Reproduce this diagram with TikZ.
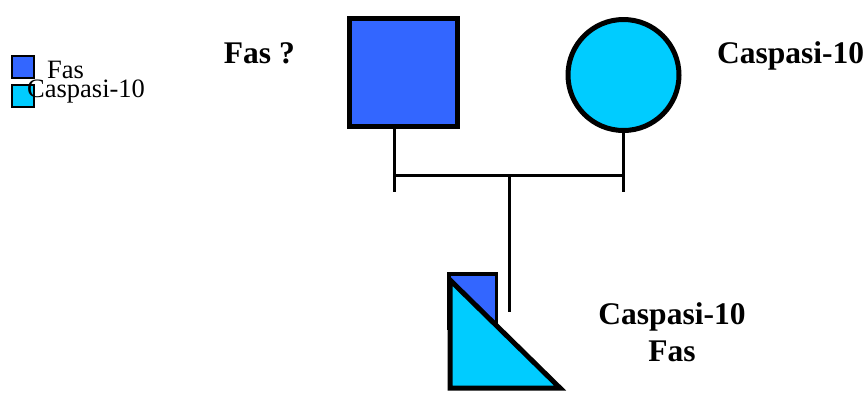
\documentclass[tikz,border=0pt]{standalone}
\usepackage{fontspec}
\setmainfont{Liberation Serif}
\usepackage{xcolor}
\definecolor{fasblue}{RGB}{51,102,255}
\definecolor{caspcyan}{RGB}{0,204,255}

\begin{document}
\begin{tikzpicture}[x=1pt,y=-1pt,
    member/.style={draw,line width=5pt,inner sep=0pt},
    legbox/.style={draw,line width=2pt,inner sep=0pt,minimum size=22pt},
    bigtxt/.style={inner sep=0pt,font=\fontsize{31.5}{37}\selectfont\bfseries},
    legtxt/.style={inner sep=0pt,font=\fontsize{26.5}{30}\selectfont}]
  \useasboundingbox (0,0) rectangle (867,392);
  % legend
  \node[legbox,fill=fasblue] (legfas) at (23,66.5) {};
  \node[legbox,fill=caspcyan] (legcasp) at (23,96) {};
  \node[legtxt,anchor=base west] (legfastxt) at (47,78) {Fas};
  \node[legtxt,anchor=base west] (legcasptxt) at (27,97) {Caspasi-10};
  % parents
  \node[member,fill=fasblue,minimum size=108pt] (father) at (403.5,72) {};
  \node[member,circle,fill=caspcyan,minimum size=111pt] (mother) at (623.5,75) {};
  \node[bigtxt,anchor=base east] (fathertxt) at (295,63) {Fas ?};
  \node[bigtxt,anchor=base west] (mothertxt) at (717,63) {Caspasi-10};
  % mating line and descent
  \coordinate (fleg) at (394,192);
  \coordinate (mleg) at (623,192);
  \coordinate (mate) at (509,175);
  \coordinate (childtop) at (509,312);
  \draw[line width=3pt] (fleg |- father.south) -- (fleg);
  \draw[line width=3pt] (mleg |- mother.south) -- (mleg);
  \draw[line width=3pt] (fleg |- mate) -- (mleg |- mate);
  \draw[line width=3pt] (mate) -- (childtop);
  % child
  \draw[line width=3.5pt,fill=fasblue] (449,274) rectangle (496.5,328);
  \draw[line width=5pt,fill=caspcyan,line join=miter] (450,280) -- (450,388) -- (560,388) -- cycle;
  \node[bigtxt,align=center,anchor=base] (childtxt) at (672,361) {Caspasi-10\\Fas};
\end{tikzpicture}
\end{document}
